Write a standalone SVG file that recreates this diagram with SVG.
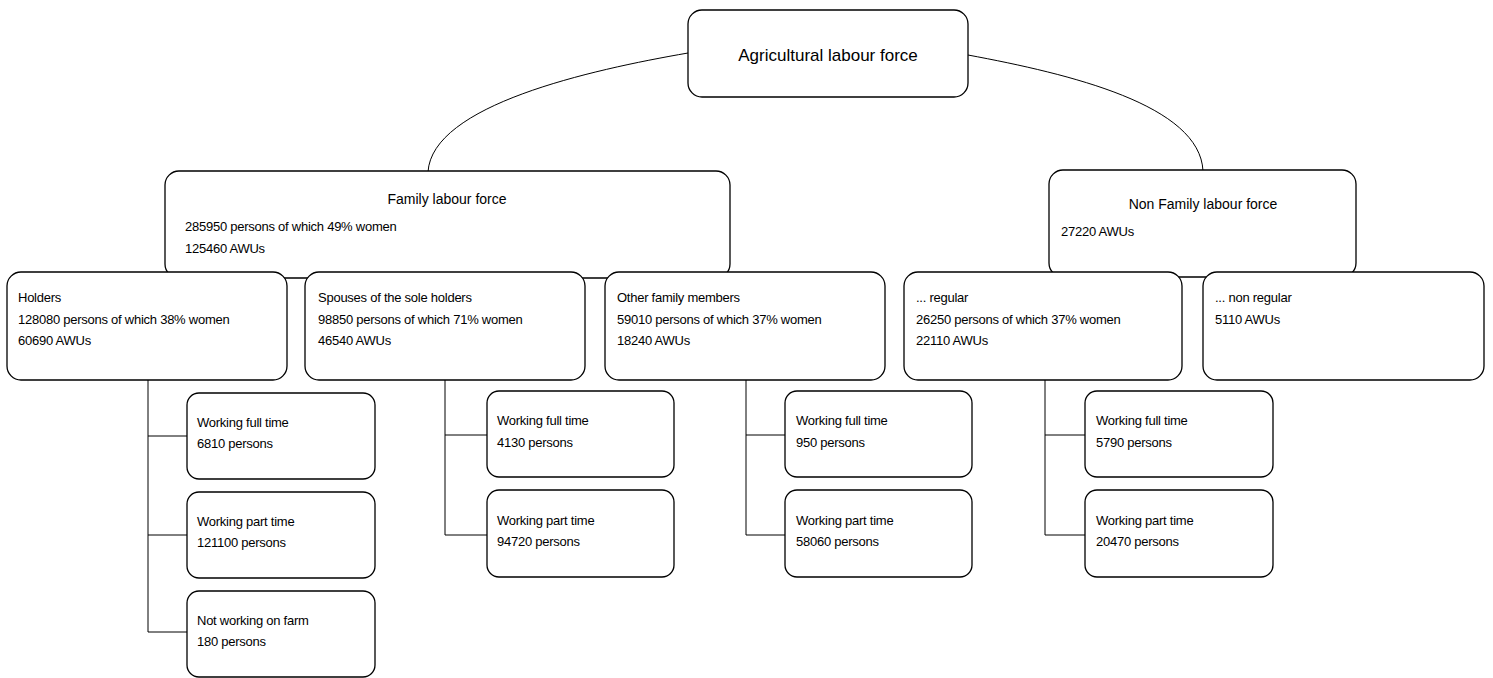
<svg xmlns="http://www.w3.org/2000/svg" width="1493" height="678" viewBox="0 0 1493 678">
<style>
.box{fill:#fff;stroke:#000;stroke-width:1.3}
.ln{fill:none;stroke:#000;stroke-width:1}
text{font-family:"Liberation Sans",Arial,sans-serif;font-size:13px;letter-spacing:-0.25px;fill:#000}
.big{font-size:17px;letter-spacing:0}
.mid{font-size:14px;letter-spacing:0}
</style>
<g id="connectors">
<path class="ln" d="M688,53 C590,70 432,105 428,172"/>
<path class="ln" d="M968,55 C1070,74 1200,105 1203,171"/>
<path class="ln" d="M148,380 V632 M148,436 H187 M148,535 H187 M148,632 H187"/>
<path class="ln" d="M445,380 V535 M445,435 H487 M445,535 H487"/>
<path class="ln" d="M746,380 V535 M746,435 H785 M746,535 H785"/>
<path class="ln" d="M1045,380 V535 M1045,435 H1085 M1045,535 H1085"/>
</g>
<g id="agri"><rect class="box" x="688" y="10" width="280" height="87" rx="14"/><text class="big" x="828" y="61" text-anchor="middle">Agricultural labour force</text></g>
<g id="family"><rect class="box" x="165" y="171" width="565" height="107" rx="14"/><text class="mid" x="447" y="204" text-anchor="middle">Family labour force</text><text x="185" y="231">285950 persons of which 49% women</text><text x="185" y="253">125460 AWUs</text></g>
<g id="nonfamily"><rect class="box" x="1049" y="170" width="307" height="107" rx="14"/><text class="mid" x="1203" y="209" text-anchor="middle">Non Family labour force</text><text x="1061" y="236">27220 AWUs</text></g>
<g id="holders"><rect class="box" x="7" y="272" width="280" height="108" rx="14"/><text x="18" y="302">Holders</text><text x="18" y="324">128080 persons of which 38% women</text><text x="18" y="345">60690 AWUs</text></g>
<g id="spouses"><rect class="box" x="305" y="272" width="280" height="108" rx="14"/><text x="318" y="302">Spouses of the sole holders</text><text x="318" y="324">98850 persons of which 71% women</text><text x="318" y="345">46540 AWUs</text></g>
<g id="other"><rect class="box" x="605" y="272" width="280" height="108" rx="14"/><text x="617" y="302">Other family members</text><text x="617" y="324">59010 persons of which 37% women</text><text x="617" y="345">18240 AWUs</text></g>
<g id="regular"><rect class="box" x="904" y="272" width="278" height="108" rx="14"/><text x="916" y="302">... regular</text><text x="916" y="324">26250 persons of which 37% women</text><text x="916" y="345">22110 AWUs</text></g>
<g id="nonregular"><rect class="box" x="1203" y="272" width="281" height="108" rx="14"/><text x="1215" y="302">... non regular</text><text x="1215" y="324">5110 AWUs</text></g>
<g id="h-full"><rect class="box" x="187" y="393" width="188" height="86" rx="12"/><text x="197" y="427">Working full time</text><text x="197" y="448">6810 persons</text></g>
<g id="h-part"><rect class="box" x="187" y="492" width="188" height="86" rx="12"/><text x="197" y="526">Working part time</text><text x="197" y="547">121100 persons</text></g>
<g id="h-not"><rect class="box" x="187" y="591" width="188" height="86" rx="12"/><text x="197" y="625">Not working on farm</text><text x="197" y="646">180 persons</text></g>
<g id="s-full"><rect class="box" x="487" y="391" width="187" height="86" rx="12"/><text x="497" y="425">Working full time</text><text x="497" y="447">4130 persons</text></g>
<g id="s-part"><rect class="box" x="487" y="490" width="187" height="87" rx="12"/><text x="497" y="525">Working part time</text><text x="497" y="546">94720 persons</text></g>
<g id="o-full"><rect class="box" x="785" y="391" width="187" height="86" rx="12"/><text x="796" y="425">Working full time</text><text x="796" y="447">950 persons</text></g>
<g id="o-part"><rect class="box" x="785" y="490" width="187" height="87" rx="12"/><text x="796" y="525">Working part time</text><text x="796" y="546">58060 persons</text></g>
<g id="r-full"><rect class="box" x="1085" y="391" width="188" height="86" rx="12"/><text x="1096" y="425">Working full time</text><text x="1096" y="447">5790 persons</text></g>
<g id="r-part"><rect class="box" x="1085" y="490" width="188" height="87" rx="12"/><text x="1096" y="525">Working part time</text><text x="1096" y="546">20470 persons</text></g>
</svg>
